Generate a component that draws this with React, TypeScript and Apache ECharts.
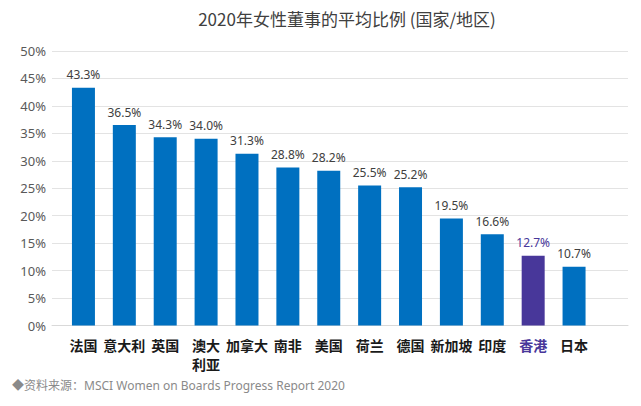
import React, { useEffect, useRef } from 'react';
import * as echarts from 'echarts';

const categories = ['法国', '意大利', '英国', '澳大\n利亚', '加拿大', '南非', '美国', '荷兰', '德国', '新加坡', '印度', '香港', '日本'];
const values = [43.3, 36.5, 34.3, 34.0, 31.3, 28.8, 28.2, 25.5, 25.2, 19.5, 16.6, 12.7, 10.7];
const highlight = '香港';

const BLUE = '#0070C0';
const PURPLE = '#48379A';

const App: React.FC = () => {
  const chartRef = useRef<HTMLDivElement>(null);

  useEffect(() => {
    if (!chartRef.current) return;
    const chart = echarts.init(chartRef.current, null, { renderer: 'svg' });

    const option: echarts.EChartsOption = {
      animation: false,
      backgroundColor: '#ffffff',
      textStyle: { fontFamily: '"Noto Sans", "Noto Sans CJK SC", sans-serif' },
      title: {
        text: '2020年女性董事的平均比例 (国家/地区)',
        left: 342,
        textAlign: 'center',
        top: 5,
        textStyle: {
          fontSize: 17,
          fontWeight: 'normal',
          color: '#404040',
          fontFamily: '"Noto Sans CJK SC", sans-serif'
        }
      },
      grid: [
        { left: 52, right: 13, top: 51, height: 274.5 },
        { left: 63, right: 46.5, top: 51, height: 274.5 }
      ],
      xAxis: [
        {
          gridIndex: 0,
          type: 'value',
          min: 0,
          max: 1,
          axisLabel: { show: false },
          axisTick: { show: false },
          splitLine: { show: false },
          axisLine: { show: true, lineStyle: { color: '#d9d9d9', width: 1 } }
        },
        {
          gridIndex: 1,
          type: 'category',
          data: categories.map(c => ({
            value: c,
            textStyle: c === highlight ? { color: PURPLE } : undefined
          })),
          axisLine: { show: false },
          axisTick: { show: false },
          axisLabel: {
            interval: 0,
            margin: 10,
            fontSize: 14,
            fontWeight: 'bold',
            color: '#1a1a1a',
            lineHeight: 19,
            verticalAlign: 'top',
            fontFamily: '"Noto Sans CJK SC", sans-serif'
          }
        }
      ],
      yAxis: [
        {
          gridIndex: 0,
          type: 'value',
          min: 0,
          max: 50,
          interval: 5,
          axisLine: { show: false },
          axisTick: { show: false },
          axisLabel: {
            formatter: '{value}%',
            fontSize: 13,
            color: '#595959',
            margin: 6
          },
          splitLine: { lineStyle: { color: '#e3e3e3', width: 1 } }
        },
        {
          gridIndex: 1,
          type: 'value',
          min: 0,
          max: 50,
          show: false
        }
      ],
      series: [
        {
          type: 'bar',
          xAxisIndex: 1,
          yAxisIndex: 1,
          barWidth: 23,
          data: values.map((v, i) => ({
            value: v,
            itemStyle: { color: categories[i] === highlight ? PURPLE : BLUE },
            label: categories[i] === highlight ? { color: PURPLE } : undefined
          })),
          label: {
            show: true,
            position: 'top',
            distance: 7,
            fontSize: 12,
            color: '#404040',
            formatter: (p: any) => `${p.value.toFixed(1)}%`
          }
        }
      ],
      graphic: [
        {
          type: 'text',
          left: 12,
          top: 379,
          style: {
            text: '◆资料来源：MSCI Women on Boards Progress Report 2020',
            fontSize: 12,
            fill: '#8a8a8a',
            fontFamily: '"Noto Sans", "Noto Sans CJK SC", sans-serif'
          }
        }
      ]
    };

    chart.setOption(option);
    return () => {
      chart.dispose();
    };
  }, []);

  return (
    <div
      ref={chartRef}
      style={{ position: 'absolute', left: 0, top: 0, width: '641px', height: '406px' }}
    />
  );
};

export default App;
